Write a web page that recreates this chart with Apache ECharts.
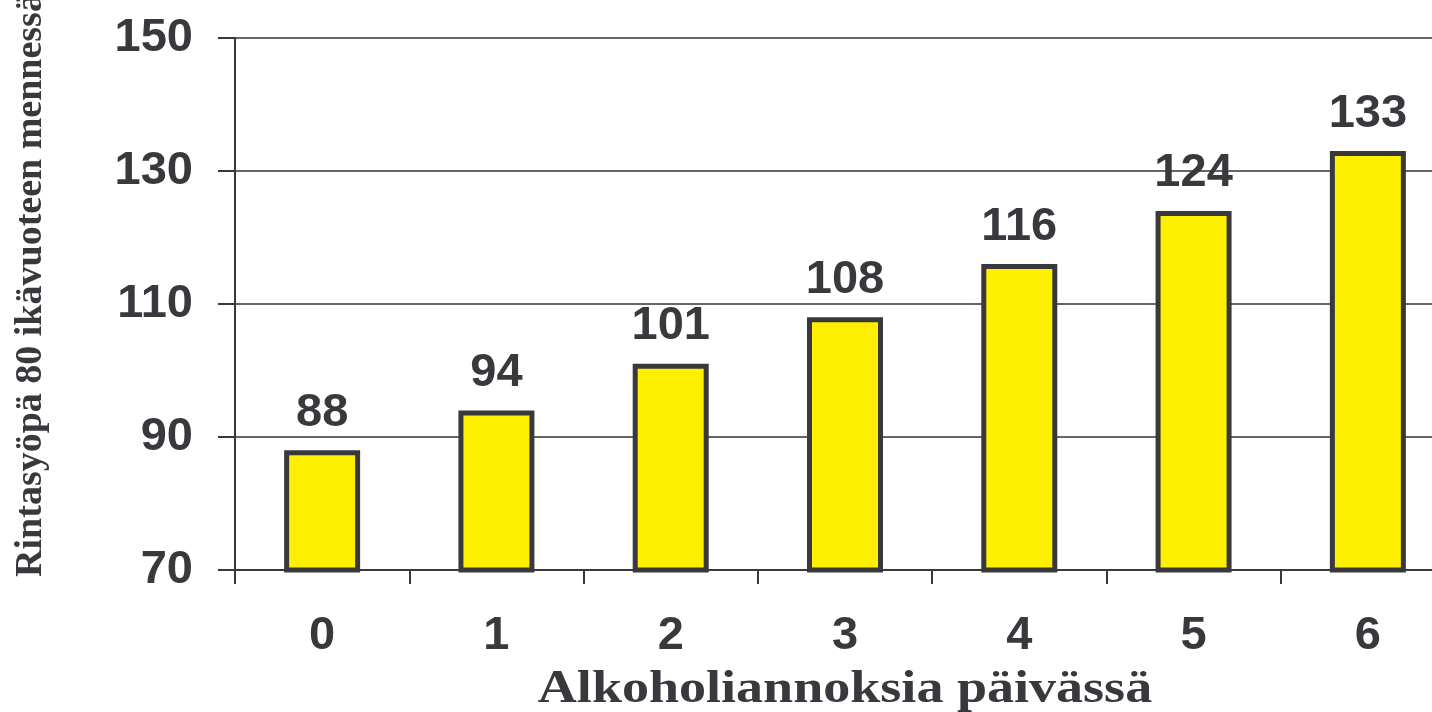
<!DOCTYPE html>
<html>
<head>
<meta charset="utf-8">
<script src="https://cdn.jsdelivr.net/npm/echarts@6/dist/echarts.min.js"></script>
<style>
  html, body { margin: 0; padding: 0; background: #ffffff; }
  #chart { width: 1432px; height: 712px; }
</style>
</head>
<body>
<div id="chart"></div>
<script>
// Daily alcohol portions and breast cancer cases by age 80
const categories = ['0', '1', '2', '3', '4', '5', '6'];
const values = [88, 94, 101, 108, 116, 124, 133];
const yTicks = { min: 70, max: 150, interval: 20 };
const xTitle = 'Alkoholiannoksia päivässä';
const yTitle = 'Rintasyöpä 80 ikävuoteen mennessä';

const ink = '#38383d';
const sans = '"Liberation Sans", Arial, sans-serif';
const serif = '"Liberation Serif", "Times New Roman", serif';

const chart = echarts.init(document.getElementById('chart'), null, { renderer: 'canvas' });

chart.setOption({
  animation: false,
  backgroundColor: '#ffffff',
  // the plot runs past the right edge of the canvas
  grid: {
    left: 235, top: 38, width: 1220, height: 532,
    containLabel: false,
    outerBoundsMode: 'none'
  },
  xAxis: {
    type: 'category',
    data: categories,
    axisLine: { show: true, lineStyle: { color: ink, width: 2 } },
    axisTick: { show: true, length: 14, alignWithLabel: false, lineStyle: { color: ink, width: 2 } },
    axisLabel: { color: ink, fontFamily: sans, fontWeight: 'bold', fontSize: 47, margin: 43 },
    splitLine: { show: false }
  },
  yAxis: {
    type: 'value',
    min: yTicks.min,
    max: yTicks.max,
    interval: yTicks.interval,
    axisLine: { show: true, lineStyle: { color: ink, width: 2 } },
    axisTick: { show: true, length: 17, lineStyle: { color: ink, width: 2 } },
    axisLabel: { color: ink, fontFamily: sans, fontWeight: 'bold', fontSize: 47, margin: 42 },
    splitLine: { show: true, lineStyle: { color: '#666666', width: 2 } }
  },
  series: [{
    type: 'bar',
    data: values,
    barWidth: 76,
    itemStyle: { color: '#FFEF00', borderColor: ink, borderWidth: 5 },
    label: {
      show: true,
      position: 'top',
      distance: 14,
      color: ink,
      fontFamily: sans,
      fontWeight: 'bold',
      fontSize: 47
    }
  }],
  graphic: [
    {
      type: 'text',
      x: 845,
      y: 690,
      scaleX: 1.15,
      style: {
        text: xTitle,
        fill: ink,
        font: 'bold 47px ' + serif,
        align: 'center',
        verticalAlign: 'middle'
      }
    },
    {
      type: 'text',
      x: 31,
      y: 285,
      rotation: Math.PI / 2,
      style: {
        text: yTitle,
        fill: ink,
        font: 'bold 38px ' + serif,
        align: 'center',
        verticalAlign: 'middle'
      }
    }
  ]
});
</script>
</body>
</html>
